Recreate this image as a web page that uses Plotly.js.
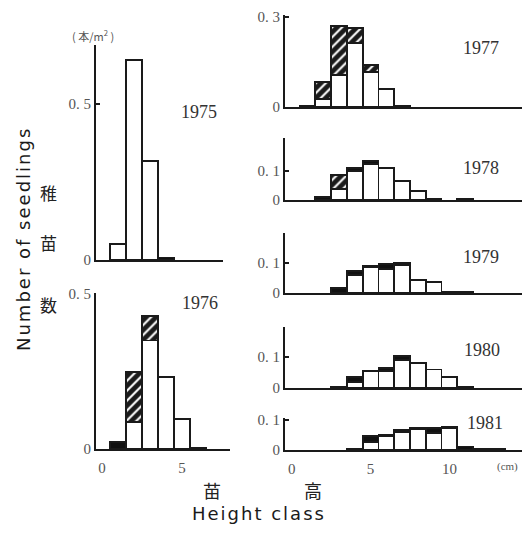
<!DOCTYPE html>
<html><head><meta charset="utf-8">
<script src="https://cdn.plot.ly/plotly-3.0.1.min.js"></script>
<style>
html,body{margin:0;padding:0;background:#fff}#chart{width:524px;height:534px}
.annotation[data-index="7"] text, .annotation[data-index="13"] text{letter-spacing:2px}
</style>
</head><body><div id="chart"></div>
<script>
// Height classes (cm)
const classesL = [1, 2, 3, 4, 5, 6];
const classesR = [1, 2, 3, 4, 5, 6, 7, 8, 9, 10, 11, 12, 13];
const years = ['1975', '1976', '1977', '1978', '1979', '1980', '1981'];

// Seedling density (本/m²) – white, hatched and black segments
const white1975 = [0.051, 0.64, 0.317, null, null, null];
const hatch1975 = [null, null, null, null, null, null];
const black1975 = [null, null, null, 0.008, null, null];

const white1976 = [null, 0.087, 0.35, 0.232, 0.097, null];
const hatch1976 = [null, 0.161, 0.08, null, null, null];
const black1976 = [0.023, null, null, null, null, 0.005];

const white1977 = [null, 0.027, 0.107, 0.213, 0.117, 0.06, null, null, null, null, null, null, null];
const hatch1977 = [null, 0.056, 0.163, 0.05, 0.023, null, null, null, null, null, null, null, null];
const black1977 = [0.005, null, null, null, null, null, 0.004, null, null, null, null, null, null];

const white1978 = [null, null, 0.038, 0.1, 0.124, 0.11, 0.066, 0.031, null, null, null, null, null];
const hatch1978 = [null, null, 0.048, null, null, null, null, null, null, null, null, null, null];
const black1978 = [null, 0.01, null, 0.01, 0.01, null, null, null, 0.004, null, 0.004, null, null];

const white1979 = [null, null, null, 0.06, 0.085, 0.08, 0.093, 0.043, 0.037, null, null, null, null];
const hatch1979 = [null, null, null, null, null, null, null, null, null, null, null, null, null];
const black1979 = [null, null, 0.017, 0.013, 0.004, 0.017, 0.007, null, null, 0.004, 0.005, null, null];

const white1980 = [null, null, null, 0.02, 0.053, 0.055, 0.09, 0.08, 0.06, 0.036, null, null, null];
const hatch1980 = [null, null, null, null, null, null, null, null, null, null, null, null, null];
const black1980 = [null, null, 0.003, 0.015, 0.003, 0.01, 0.013, null, null, null, 0.003, null, null];

const white1981 = [null, null, null, null, 0.027, 0.046, 0.06, 0.069, 0.057, 0.073, null, null, null];
const hatch1981 = [null, null, null, null, null, null, null, null, null, null, null, null, null];
const black1981 = [null, null, null, 0.005, 0.02, 0.004, 0.007, 0.004, 0.016, 0.004, 0.012, 0.005, 0.003];

const yTickVals = [[0, 0.5], [0, 0.5], [0, 0.3], [0, 0.1], [0, 0.1], [0, 0.1], [0, 0.1]];
const yTickText = [['0', '0. 5'], ['0', '0. 5'], ['0', '0. 3'], ['0', '0. 1'], ['0', '0. 1'], ['0', '0. 1'], ['0', '0. 1']];
const xTickValsL = [0, 5];
const xTickValsR = [0, 5, 10];

const W = 524, H = 534;
const series = [
  [white1975, hatch1975, black1975, classesL],
  [white1976, hatch1976, black1976, classesL],
  [white1977, hatch1977, black1977, classesR],
  [white1978, hatch1978, black1978, classesR],
  [white1979, hatch1979, black1979, classesR],
  [white1980, hatch1980, black1980, classesR],
  [white1981, hatch1981, black1981, classesR]
];
// panel geometry in pixels: [xLeft, xRight, yBottom, yTop, xmin, xmax, ymax]
const geom = [
  [96, 223, 260, 45, -0.375, 7.56, 0.689],
  [96, 230, 449, 293, -0.375, 8.0, 0.503],
  [285, 522, 107, 15, -0.42, 14.6, 0.307],
  [285, 522, 200, 138, -0.42, 14.6, 0.214],
  [285, 522, 293, 233, -0.42, 14.6, 0.2],
  [285, 522, 388, 327, -0.42, 14.6, 0.197],
  [285, 522, 450, 418, -0.42, 14.6, 0.107]
];
const yearPos = [[199, 112], [200, 303], [481, 48], [481, 168], [481, 257], [482, 350], [485, 423]];

const traces = [];
const layout = {
  width: W, height: H, margin: {l: 0, r: 0, t: 0, b: 0},
  paper_bgcolor: '#fff', plot_bgcolor: 'rgba(0,0,0,0)',
  barmode: 'stack', bargap: 0, showlegend: false,
  annotations: []
};
const lineSty = {color: '#1a1a1a', width: 1.8};
series.forEach((s, i) => {
  const n = i + 1;
  const xa = 'x' + (n === 1 ? '' : n), ya = 'y' + (n === 1 ? '' : n);
  traces.push({type: 'bar', x: s[3], y: s[0], xaxis: xa, yaxis: ya, width: 1,
    marker: {color: '#ffffff', line: lineSty}, hoverinfo: 'skip'});
  traces.push({type: 'bar', x: s[3], y: s[1], xaxis: xa, yaxis: ya, width: 1,
    marker: {color: '#1a1a1a', line: lineSty,
      pattern: {shape: '/', fgcolor: '#ffffff', bgcolor: '#1a1a1a', size: 7, solidity: 0.3, fillmode: 'replace'}},
    hoverinfo: 'skip'});
  traces.push({type: 'bar', x: s[3], y: s[2], xaxis: xa, yaxis: ya, width: 1,
    marker: {color: '#111', line: lineSty}, hoverinfo: 'skip'});
  const g = geom[i];
  const showX = (n === 2 || n === 7);
  layout['xaxis' + (n === 1 ? '' : n)] = {
    domain: [g[0] / W, g[1] / W], range: [g[4], g[5]], anchor: ya,
    showline: true, linecolor: '#1a1a1a', linewidth: 2, showgrid: false, zeroline: false,
    tickmode: 'array', tickvals: n === 2 ? xTickValsL : xTickValsR, ticks: '',
    showticklabels: showX, ticklabelstandoff: 4,
    tickfont: {family: 'Liberation Serif', size: 15, color: '#555'}
  };
  layout['yaxis' + (n === 1 ? '' : n)] = {
    domain: [1 - g[2] / H, 1 - g[3] / H], range: [0, g[6]], anchor: xa,
    showline: true, linecolor: '#1a1a1a', linewidth: 2, showgrid: false, zeroline: false,
    tickmode: 'array', tickvals: yTickVals[i], ticktext: yTickText[i],
    ticks: 'inside', ticklen: 4, tickwidth: 1.5, tickcolor: '#1a1a1a',
    tickfont: {family: 'Liberation Serif', size: 15, color: '#555'}
  };
  layout.annotations.push({text: years[i], x: yearPos[i][0] / W, y: 1 - yearPos[i][1] / H,
    xref: 'paper', yref: 'paper', showarrow: false, xanchor: 'center', yanchor: 'middle',
    font: {family: 'Liberation Serif', size: 18, color: '#333'}});
});

function ann(text, x, y, font, extra) {
  layout.annotations.push(Object.assign({text: text, x: x / W, y: 1 - y / H, xref: 'paper', yref: 'paper',
    showarrow: false, xanchor: 'center', yanchor: 'middle', font: font}, extra || {}));
}
const sans = {family: 'DejaVu Sans', size: 18, color: '#1a1a1a'};
const cjkV = {family: 'Noto Sans CJK JP', size: 17, color: '#222'};
const cjkH = {family: 'Noto Sans CJK JP', size: 18, color: '#222'};
ann('Number of seedlings', 23, 239, sans, {textangle: -90});   // index 7
ann('稚', 48, 192, cjkV);
ann('苗', 48, 242, cjkV);
ann('数', 48, 304, cjkV);
ann('苗', 212, 490, cjkH);
ann('高', 313, 490, cjkH);
ann('Height class', 259, 513, sans);                            // index 13
ann('( 本/m<sup>2</sup> )', 93, 35, {family: 'Noto Sans CJK JP', size: 11, color: '#555'});
ann('(cm)', 507, 466, {family: 'Liberation Serif', size: 11, color: '#555'});

Plotly.newPlot('chart', traces, layout, {staticPlot: true, displayModeBar: false});
</script></body></html>
